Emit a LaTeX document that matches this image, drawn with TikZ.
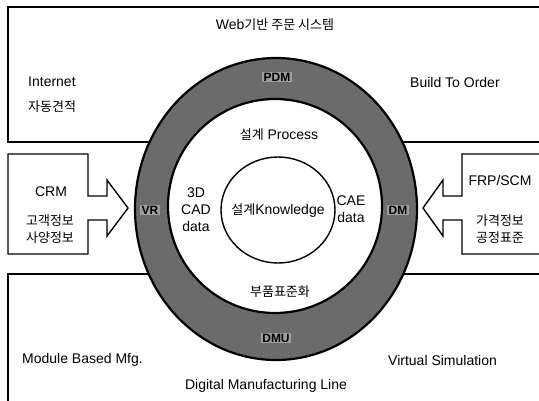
\documentclass[tikz,border=0pt]{standalone}
\usepackage{fontspec}
\setmainfont{Liberation Sans}
\newfontfamily\kr{Noto Sans CJK KR}
\begin{document}
\begin{tikzpicture}[x=1pt,y=-1pt,
  boxline/.style={draw=black,line width=1.4pt,line join=miter},
  ringfill/.style={fill=black!58},
  ringline/.style={draw=black,line width=2.2pt},
  txt/.style={font=\fontsize{14}{17}\selectfont,inner sep=0pt,align=center},
  ktxt/.style={font=\fontsize{13}{17}\selectfont\kr,inner sep=0pt,align=center},
  ringlbl/.style={font=\fontsize{12}{12}\selectfont\bfseries,fill=black!38,inner sep=1.2pt}]
\useasboundingbox (0,0) rectangle (539,400);
\fill[white] (0,0) rectangle (539,400);
% top box
\draw[boxline] (539,7) -- (8,7) -- (8,142) -- (539,142);
% left arrow box
\draw[boxline,fill=white] (8,154) -- (88,154) -- (88,196) -- (107,196) -- (107,180)
  -- (128,208) -- (107,236) -- (107,220) -- (88,220) -- (88,254) -- (8,254) -- cycle;
% right arrow box
\draw[boxline,fill=white] (539,154) -- (462,154) -- (462,196) -- (443,196) -- (443,180)
  -- (423,208) -- (443,236) -- (443,220) -- (462,220) -- (462,254) -- (539,254);
% bottom box
\draw[boxline] (539,274) -- (8,274) -- (8,401);
% ring
\path[ringfill,even odd rule] (276,209) ellipse [x radius=141,y radius=151]
  (275,206) circle [radius=107];
\fill[white] (275,206) circle [radius=107];
\draw[ringline] (276,209) ellipse [x radius=141,y radius=151];
\draw[ringline] (275,206) circle [radius=107];
% inner circle
\draw[line width=1.4pt] (278,210) ellipse [x radius=57,y radius=53];
% texts
\node[txt] (web) at (275,25) {Web{\kr\fontsize{13}{17}\selectfont 기반 주문 시스템}};
\node[txt,anchor=west] (inet) at (28,82) {Internet};
\node[ktxt,anchor=west] (auto) at (28,107) {자동견적};
\node[txt,anchor=west] (bto) at (410,82) {Build To Order};
\node[ringlbl] (pdm) at (277,77) {PDM};
\node[ringlbl] (vr) at (150,210) {VR};
\node[ringlbl] (dm) at (398,210) {DM};
\node[ringlbl] (dmu) at (276,338) {DMU};
\node[txt] (proc) at (279,135) {{\kr\fontsize{13}{17}\selectfont 설계} Process};
\node[txt] (cad) at (196,209.5) {3D\\CAD\\data};
\node[txt] (cae) at (351,209) {CAE\\data};
\node[txt] (know) at (278,211) {{\kr\fontsize{13}{17}\selectfont 설계}Knowledge};
\node[ktxt] (std) at (280,292) {부품표준화};
\node[txt] (crm) at (51,192) {CRM};
\node[ktxt] (cust) at (50,229) {고객정보\\사양정보};
\node[txt] (frp) at (500,180) {FRP/SCM};
\node[ktxt] (price) at (500,229) {가격정보\\공정표준};
\node[txt,anchor=west] (mod) at (22,360) {Module Based Mfg.};
\node[txt,anchor=west] (vs) at (388,360) {Virtual Simulation};
\node[txt] (dml) at (266,386) {Digital Manufacturing Line};
\end{tikzpicture}
\end{document}
